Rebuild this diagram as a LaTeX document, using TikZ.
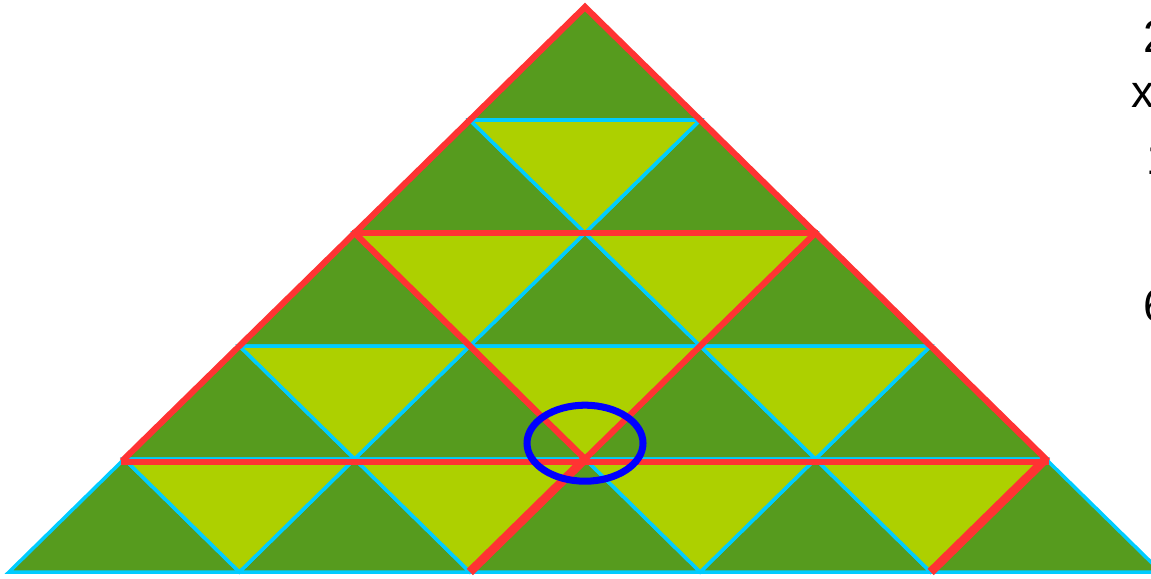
\documentclass[tikz,border=0pt]{standalone}
\usepackage{fontspec}
\setmainfont{Liberation Sans}
\definecolor{TriDark}{RGB}{86,155,30}
\definecolor{TriLight}{RGB}{173,208,0}
\definecolor{TriEdge}{RGB}{0,204,255}
\definecolor{TriRed}{RGB}{255,51,51}
\definecolor{TriRing}{RGB}{0,0,255}
\tikzset{
  tri up/.style={fill=TriDark, draw=TriEdge, line width=2pt},
  tri down/.style={fill=TriLight, draw=TriEdge, line width=2pt},
  red edge/.style={draw=TriRed, line width=3.5pt, line cap=rect},
  red thick/.style={draw=TriRed, line width=5pt},
  ring/.style={draw=TriRing, line width=4pt},
  side text/.style={font=\fontsize{26}{30}\selectfont, anchor=west, inner sep=0pt}
}

\begin{document}
\begin{tikzpicture}[x=0.02cm, y=-0.02cm]
\clip (0,0) rectangle (1151,578);
% grid points, row r and place j
\foreach \r in {0,...,5}
  \foreach \j in {0,...,\r}
    \coordinate (v\r-\j) at ({585-115.2*\r+230.4*\j},{7+113*\r});
% upward triangles
\foreach \r in {0,...,4}
  \foreach \j in {0,...,\r} {
    \pgfmathtruncatemacro\s{\r+1}
    \pgfmathtruncatemacro\k{\j+1}
    \filldraw[tri up] (v\r-\j) -- (v\s-\j) -- (v\s-\k) -- cycle;
  }
% downward triangles
\foreach \r in {1,...,4} {
  \pgfmathtruncatemacro\m{\r-1}
  \foreach \j in {0,...,\m} {
    \pgfmathtruncatemacro\s{\r+1}
    \pgfmathtruncatemacro\k{\j+1}
    \filldraw[tri down] (v\r-\j) -- (v\r-\k) -- (v\s-\k) -- cycle;
  }
}
% red outline
\draw[red edge] (v4-0) -- (v0-0) -- (v4-4);
\draw[red edge] (v2-0) -- (v2-2);
\draw[red edge] ([yshift=-1.5pt]v4-0) -- ([yshift=-1.5pt]v4-4);
\draw[red edge] (v2-0) -- (v3-1) -- (v4-2);
\draw[red edge] (v2-2) -- (v3-2) -- (v4-2);
\draw[red thick] (v4-2) -- (v5-2);
\draw[red thick] (v4-4) -- (v5-4);
% ring
\draw[ring] ([yshift=9pt]v4-2) ellipse [x radius=58, y radius=38];
% cut text at the right edge
\node[side text] (n2) at (1143,37) {2};
\node[side text] (nx) at (1131,95) {x};
\node[side text] (n1) at (1146,159) {1};
\node[side text] (n6) at (1143,306) {6};
\end{tikzpicture}
\end{document}
